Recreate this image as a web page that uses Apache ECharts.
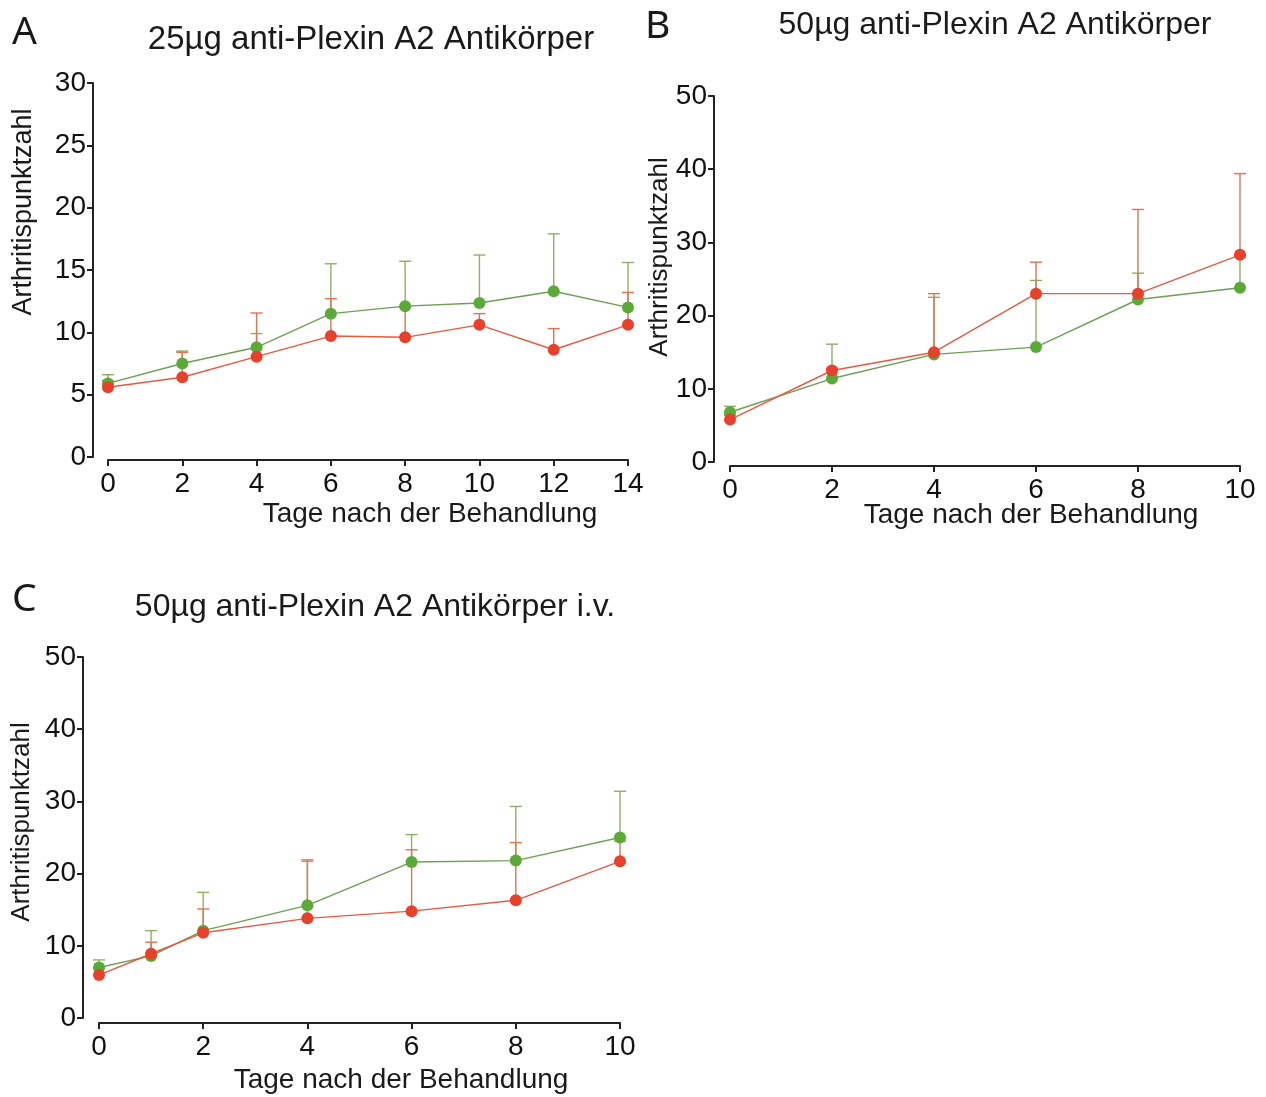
<!DOCTYPE html>
<html>
<head>
<meta charset="utf-8">
<script src="https://cdn.jsdelivr.net/npm/echarts@6/dist/echarts.min.js"></script>
<style>
html,body{margin:0;padding:0;background:#fff;}
#chart{width:1266px;height:1097px;}
</style>
</head>
<body>
<div id="chart"></div>
<script>
// ---------- data ----------
const panelTitles = ['25µg anti-Plexin A2 Antikörper', '50µg anti-Plexin A2 Antikörper', '50µg anti-Plexin A2 Antikörper i.v.'];
const panelLetters = ['A', 'B', 'C'];
const xTitle = 'Tage nach der Behandlung';
const yTitle = 'Arthritispunktzahl';

// Panel A
const daysA = [0, 2, 4, 6, 8, 10, 12, 14];
const greenA = [5.9, 7.5, 8.8, 11.5, 12.1, 12.35, 13.3, 12.0];
const greenAUpper = [6.6, 8.5, 9.9, 15.5, 15.7, 16.2, 17.9, 15.6];
const redA = [5.6, 6.4, 8.05, 9.7, 9.6, 10.6, 8.6, 10.6];
const redAUpper = [6.1, 8.4, 11.55, 12.7, 12.0, 11.5, 10.3, 13.2];

// Panel B
const daysB = [0, 2, 4, 6, 8, 10];
const greenB = [6.8, 11.4, 14.7, 15.7, 22.2, 23.8];
const greenBUpper = [7.6, 16.1, 22.5, 24.8, 25.8, 28.0];
const redB = [5.8, 12.5, 15.0, 23.0, 23.0, 28.3];
const redBUpper = [6.4, 12.8, 23.0, 27.3, 34.5, 39.4];

// Panel C
const daysC = [0, 1, 2, 4, 6, 8, 10];
const greenC = [7.0, 8.6, 12.1, 15.6, 21.6, 21.8, 25.0];
const greenCUpper = [8.05, 12.1, 17.4, 21.7, 25.4, 29.3, 31.4];
const redC = [5.95, 8.9, 11.8, 13.8, 14.8, 16.3, 21.7];
const redCUpper = [6.9, 10.5, 15.1, 21.9, 23.3, 24.3, 24.5];

// ---------- styling ----------
const GREEN_DOT = '#5aab36';
const GREEN_LINE = '#6f9e55';
const GREEN_ERR = '#8fb062';
const RED_DOT = '#e8402a';
const RED_LINE = '#e85a40';
const RED_ERR = '#e8704f';
const AXIS = '#222';
const FONT = 'Liberation Sans';

const chart = echarts.init(document.getElementById('chart'), null, {renderer: 'canvas'});

const grids = [
  {left: 108, top: 83, width: 520, height: 374},
  {left: 730, top: 96, width: 510, height: 366},
  {left: 99, top: 657, width: 521, height: 361}
];
const yMax = [30, 50, 50];
const yInt = [5, 10, 10];
const xMax = [14, 10, 10];
const yOff = [15, 16, 16];
const xOff = [3, 4, 5];

function pairs(xs, ys) { return xs.map((x, i) => [x, ys[i]]); }
function errData(xs, ys, ups) { return xs.map((x, i) => [x, ys[i], ups[i]]); }

function errSeries(idx, data, color) {
  return {
    type: 'custom',
    xAxisIndex: idx, yAxisIndex: idx,
    z: 1,
    silent: true,
    data: data,
    encode: {x: 0, y: [1, 2]},
    renderItem: function (params, api) {
      const p0 = api.coord([api.value(0), api.value(1)]);
      const p1 = api.coord([api.value(0), api.value(2)]);
      const hw = 6;
      const st = {stroke: color, lineWidth: 1.4};
      return {
        type: 'group',
        children: [
          {type: 'line', shape: {x1: p0[0], y1: p0[1], x2: p1[0], y2: p1[1]}, style: st},
          {type: 'line', shape: {x1: p1[0] - hw, y1: p1[1], x2: p1[0] + hw, y2: p1[1]}, style: st}
        ]
      };
    }
  };
}
function lineSeries(idx, data, dot, line, name) {
  return {
    type: 'line', name: name,
    xAxisIndex: idx, yAxisIndex: idx,
    z: 3,
    data: data,
    symbol: 'circle', symbolSize: 12,
    itemStyle: {color: dot},
    lineStyle: {color: line, width: 1.4},
    animation: false
  };
}

const xAxes = grids.map((g, i) => ({
  type: 'value', gridIndex: i, min: 0, max: xMax[i], interval: 2,
  offset: xOff[i],
  axisLine: {show: true, onZero: false, lineStyle: {color: AXIS, width: 2}},
  axisTick: {show: true, length: 6, lineStyle: {color: AXIS, width: 2}},
  axisLabel: {fontSize: 28, color: '#111', fontFamily: FONT, margin: 10},
  splitLine: {show: false}
}));
const yAxes = grids.map((g, i) => ({
  type: 'value', gridIndex: i, min: 0, max: yMax[i], interval: yInt[i],
  offset: yOff[i],
  axisLine: {show: true, onZero: false, lineStyle: {color: AXIS, width: 2}},
  axisTick: {show: true, length: 6, lineStyle: {color: AXIS, width: 2}},
  axisLabel: {fontSize: 28, color: '#111', fontFamily: FONT, margin: 7},
  splitLine: {show: false}
}));

const series = [
  errSeries(0, errData(daysA, greenA, greenAUpper), GREEN_ERR),
  errSeries(0, errData(daysA, redA, redAUpper), RED_ERR),
  lineSeries(0, pairs(daysA, greenA), GREEN_DOT, GREEN_LINE, 'A grün'),
  lineSeries(0, pairs(daysA, redA), RED_DOT, RED_LINE, 'A rot'),
  errSeries(1, errData(daysB, greenB, greenBUpper), GREEN_ERR),
  errSeries(1, errData(daysB, redB, redBUpper), RED_ERR),
  lineSeries(1, pairs(daysB, greenB), GREEN_DOT, GREEN_LINE, 'B grün'),
  lineSeries(1, pairs(daysB, redB), RED_DOT, RED_LINE, 'B rot'),
  errSeries(2, errData(daysC, greenC, greenCUpper), GREEN_ERR),
  errSeries(2, errData(daysC, redC, redCUpper), RED_ERR),
  lineSeries(2, pairs(daysC, greenC), GREEN_DOT, GREEN_LINE, 'C grün'),
  lineSeries(2, pairs(daysC, redC), RED_DOT, RED_LINE, 'C rot')
];

const titleStyle = {fontSize: 32, fontWeight: 'normal', color: '#1a1a1a', fontFamily: FONT};
const letterStyle = {fontSize: 39, fontWeight: 'normal', color: '#1a1a1a', fontFamily: 'Noto Sans'};
const titles = [
  {text: panelTitles[0], left: 366, top: 18, textAlign: 'center', textStyle: Object.assign({}, titleStyle, {fontSize: 33})},
  {text: panelTitles[1], left: 990, top: 4, textAlign: 'center', textStyle: titleStyle},
  {text: panelTitles[2], left: 370, top: 586, textAlign: 'center', textStyle: titleStyle},
  {text: panelLetters[0], left: 7, top: 8, textStyle: letterStyle},
  {text: panelLetters[1], left: 640, top: 2, textStyle: letterStyle},
  {text: panelLetters[2], left: 7, top: 575, textStyle: letterStyle}
];

const axTitle = {fontSize: 28, fill: '#1a1a1a', fontFamily: FONT};
function xt(x, y, text) {
  return {type: 'text', x: x, y: y, style: Object.assign({text: text, align: 'center', verticalAlign: 'middle'}, axTitle)};
}
function yt(x, y, text, fs) {
  return {type: 'text', x: x, y: y, rotation: Math.PI / 2,
    style: Object.assign({text: text, align: 'center', verticalAlign: 'middle'}, axTitle, {fontSize: fs})};
}

chart.setOption({
  backgroundColor: '#fff',
  animation: false,
  title: titles,
  grid: grids,
  xAxis: xAxes,
  yAxis: yAxes,
  series: series,
  graphic: [
    xt(430, 514, xTitle),
    xt(1031, 515, xTitle),
    xt(401, 1080, xTitle),
    yt(24, 212, yTitle, 27),
    yt(660, 257, yTitle, 26),
    yt(22, 822, yTitle, 26)
  ]
});
</script>
</body>
</html>
